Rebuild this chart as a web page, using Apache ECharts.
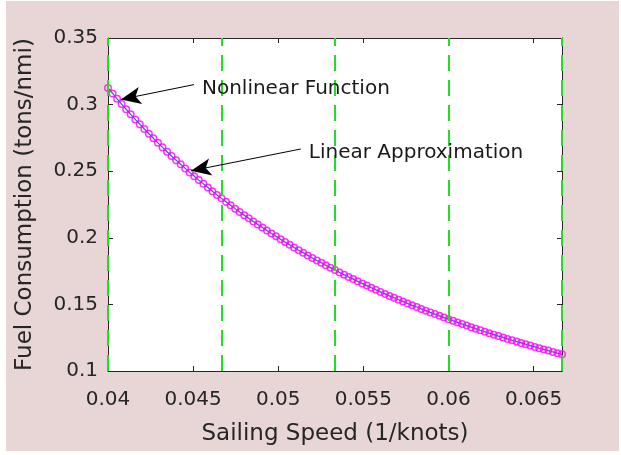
<!DOCTYPE html>
<html>
<head>
<meta charset="utf-8">
<script src="https://cdn.jsdelivr.net/npm/echarts@6/dist/echarts.min.js"></script>
<style>
html,body{margin:0;padding:0;background:#ffffff;width:621px;height:455px;overflow:hidden;}
#chart{position:absolute;left:6px;top:1px;width:613px;height:450px;}
</style>
</head>
<body>
<div id="chart"></div>
<script>
// Sailing speed (1/knots)
const speedInv = [
0.040000,0.040267,0.040533,0.040800,0.041067,0.041333,0.041600,0.041867,0.042133,0.042400,
0.042667,0.042933,0.043200,0.043467,0.043733,0.044000,0.044267,0.044533,0.044800,0.045067,
0.045333,0.045600,0.045867,0.046133,0.046400,0.046667,0.046933,0.047200,0.047467,0.047733,
0.048000,0.048267,0.048533,0.048800,0.049067,0.049333,0.049600,0.049867,0.050133,0.050400,
0.050667,0.050933,0.051200,0.051467,0.051733,0.052000,0.052267,0.052533,0.052800,0.053067,
0.053333,0.053600,0.053867,0.054133,0.054400,0.054667,0.054933,0.055200,0.055467,0.055733,
0.056000,0.056267,0.056533,0.056800,0.057067,0.057333,0.057600,0.057867,0.058133,0.058400,
0.058667,0.058933,0.059200,0.059467,0.059733,0.060000,0.060267,0.060533,0.060800,0.061067,
0.061333,0.061600,0.061867,0.062133,0.062400,0.062667,0.062933,0.063200,0.063467,0.063733,
0.064000,0.064267,0.064533,0.064800,0.065067,0.065333,0.065600,0.065867,0.066133,0.066400,
0.066667];
// Fuel consumption (tons/nmi), nonlinear function (circles)
const fuelNonlinear = [
0.3125,0.3084,0.3043,0.3004,0.2965,0.2927,0.2889,0.2853,0.2817,0.2781,
0.2747,0.2713,0.2679,0.2646,0.2614,0.2583,0.2552,0.2521,0.2491,0.2462,
0.2433,0.2405,0.2377,0.2349,0.2322,0.2296,0.2270,0.2244,0.2219,0.2194,
0.2170,0.2146,0.2123,0.2100,0.2077,0.2054,0.2032,0.2011,0.1989,0.1968,
0.1948,0.1927,0.1907,0.1888,0.1868,0.1849,0.1830,0.1812,0.1794,0.1776,
0.1758,0.1740,0.1723,0.1706,0.1690,0.1673,0.1657,0.1641,0.1625,0.1610,
0.1594,0.1579,0.1564,0.1550,0.1535,0.1521,0.1507,0.1493,0.1480,0.1466,
0.1453,0.1440,0.1427,0.1414,0.1401,0.1389,0.1377,0.1365,0.1353,0.1341,
0.1329,0.1318,0.1306,0.1295,0.1284,0.1273,0.1262,0.1252,0.1241,0.1231,
0.1221,0.1211,0.1201,0.1191,0.1181,0.1171,0.1162,0.1153,0.1143,0.1134,
0.1125];
// Linear approximation (piecewise line, visually coincident)
const fuelLinear = fuelNonlinear.slice();
// Green dashed breakpoints
const breakpoints = [0.04, 0.046667, 0.053333, 0.06, 0.066667];
// Tick settings
const xMin = 0.04, xMax = 0.066667, xStep = 0.005;
const yMin = 0.1, yMax = 0.35, yStep = 0.05;
// Annotations (data units)
const annNonlinear = {text: 'Nonlinear Function', label: [0.045519, 0.31205], tail: [0.045054, 0.31503], head: [0.040755, 0.30387]};
const annLinear = {text: 'Linear Approximation', label: [0.051794, 0.26369], tail: [0.051329, 0.26667], head: [0.04488, 0.2503]};

const FONT = 'DejaVu Sans';
const AX = '#262626';
const chart = echarts.init(document.getElementById('chart'));

const pts = (xs, ys) => xs.map((x, i) => [x, ys[i]]);
const arrowLine = a => [{coord: a.tail}, {coord: a.head}];

const option = {
  animation: false,
  backgroundColor: '#e8d6d6',
  textStyle: {fontFamily: FONT},
  grid: {left: 97, top: 37, right: 57, bottom: 77, show: true, backgroundColor: '#ffffff', borderWidth: 0},
  xAxis: [{
    type: 'value', min: xMin, max: xMax, interval: xStep,
    name: 'Sailing Speed (1/knots)', nameLocation: 'middle', nameGap: 52,
    nameTextStyle: {fontSize: 23, color: AX, fontFamily: FONT},
    axisLine: {show: true, lineStyle: {color: AX, width: 1}},
    axisTick: {show: true, inside: true, length: 5, lineStyle: {color: AX}},
    axisLabel: {fontSize: 20, color: AX, margin: 19, showMaxLabel: false, fontFamily: FONT},
    splitLine: {show: false}
  }, {
    type: 'value', position: 'top', min: xMin, max: xMax, interval: xStep,
    axisLine: {show: true, lineStyle: {color: AX, width: 1}},
    axisTick: {show: true, inside: true, length: 5, lineStyle: {color: AX}},
    axisLabel: {show: false}, splitLine: {show: false}
  }],
  yAxis: [{
    type: 'value', min: yMin, max: yMax, interval: yStep,
    name: 'Fuel Consumption (tons/nmi)', nameLocation: 'middle', nameGap: 71,
    nameTextStyle: {fontSize: 23, color: AX, fontFamily: FONT},
    axisLine: {show: true, lineStyle: {color: AX, width: 1}},
    axisTick: {show: true, inside: true, length: 5, lineStyle: {color: AX}},
    axisLabel: {fontSize: 20, color: AX, margin: 10, fontFamily: FONT},
    splitLine: {show: false}
  }, {
    type: 'value', position: 'right', min: yMin, max: yMax, interval: yStep,
    axisLine: {show: true, lineStyle: {color: AX, width: 1}},
    axisTick: {show: true, inside: true, length: 5, lineStyle: {color: AX}},
    axisLabel: {show: false}, splitLine: {show: false}
  }],
  series: [{
    name: 'Linear Approximation', type: 'line', xAxisIndex: 0, yAxisIndex: 0,
    data: pts(speedInv, fuelLinear), showSymbol: false, z: 2,
    lineStyle: {color: '#2f5fe0', width: 1.2},
    markLine: {
      silent: true, symbol: ['none', 'none'], label: {show: false}, precision: 6,
      lineStyle: {color: '#22dd22', width: 2, type: [16, 9]},
      data: breakpoints.map(b => ({xAxis: b}))
    }
  }, {
    name: 'Nonlinear Function', type: 'scatter', xAxisIndex: 0, yAxisIndex: 0,
    data: pts(speedInv, fuelNonlinear), symbol: 'circle', symbolSize: 6.5, z: 3,
    itemStyle: {color: 'rgba(0,0,0,0)', borderColor: '#ff00ff', borderWidth: 1.5},
    markLine: {
      silent: true, symbol: ['none', 'arrow'], symbolSize: [13, 20], label: {show: false}, precision: 6,
      lineStyle: {color: '#000000', width: 1, type: 'solid'},
      data: [arrowLine(annNonlinear), arrowLine(annLinear)]
    }
  }]
};
chart.setOption(option);

const texts = [annNonlinear, annLinear].map(a => {
  const p = chart.convertToPixel({gridIndex: 0}, a.label);
  return {type: 'text', x: p[0], y: p[1], z: 10,
    style: {text: a.text, fontSize: 20, fontFamily: FONT, fill: '#1a1a1a', textVerticalAlign: 'middle', textAlign: 'left'}};
});
chart.setOption({graphic: texts});
</script>
</body>
</html>
